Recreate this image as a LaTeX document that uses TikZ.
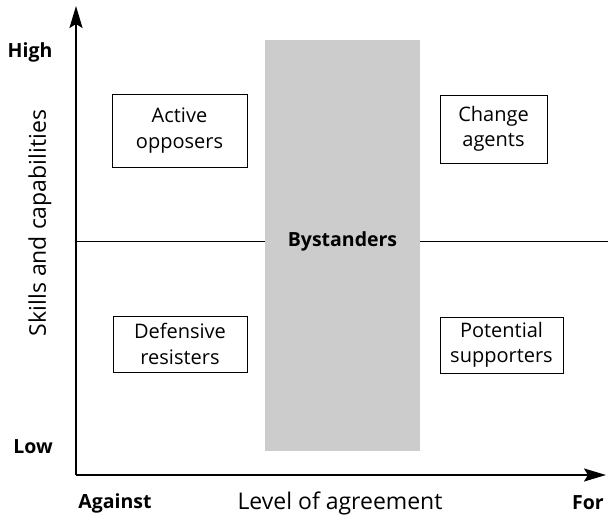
\documentclass[tikz,border=0pt]{standalone}
\usepackage{fontspec}
\setmainfont{Open Sans}
\usetikzlibrary{arrows.meta}
\begin{document}
\begin{tikzpicture}[x=1pt,y=-1pt,
  axis/.style={line width=2pt,-{Stealth[length=22pt,width=13pt,inset=4pt]}},
  grid line/.style={line width=1pt},
  quad/.style={draw=black,line width=0.9pt,fill=white,align=center,
    font=\fontsize{20}{25.5}\selectfont,inner sep=0pt},
  endlabel/.style={font=\fontsize{19.5}{22}\selectfont\bfseries},
  title/.style={font=\fontsize{23}{26}\selectfont}]
\useasboundingbox (0,0) rectangle (608,518);
% axes corner and horizontal divider
\coordinate (origin) at (76,475);
\coordinate (ytip) at (76,6);
\coordinate (xtip) at (606,475);
\coordinate (midL) at (76,242);
\coordinate (midR) at (608,242);
\draw[grid line] (midL) -- (midR);
% central band
\fill[black!20] (265,40) rectangle (420,451);
\node[font=\fontsize{19.5}{22}\selectfont\bfseries] (by) at (342.5,241) {Bystanders};
% axes
\draw[axis] (origin) -- (ytip);
\draw[axis] (origin) -- (xtip);
% quadrant boxes
\node[quad,minimum width=135pt,minimum height=73pt] (ao) at (179.5,130.5) {Active\\opposers};
\node[quad,minimum width=107pt,minimum height=68pt] (ca) at (493.5,129) {Change\\agents};
\node[quad,minimum width=134pt,minimum height=56pt] (dr) at (180,344) {Defensive\\resisters};
\node[quad,minimum width=123pt,minimum height=56pt] (ps) at (501.5,345) {Potential\\supporters};
% axis labels
\node[endlabel] (hi) at (30,52) {High};
\node[endlabel] (lo) at (33,447) {Low};
\node[endlabel] (ag) at (115,503) {Against};
\node[endlabel] (fo) at (588,503) {For};
\node[title] (xl) at (340,503) {Level of agreement};
\node[title,rotate=90] (yl) at (40,223) {Skills and capabilities};
\end{tikzpicture}
\end{document}
